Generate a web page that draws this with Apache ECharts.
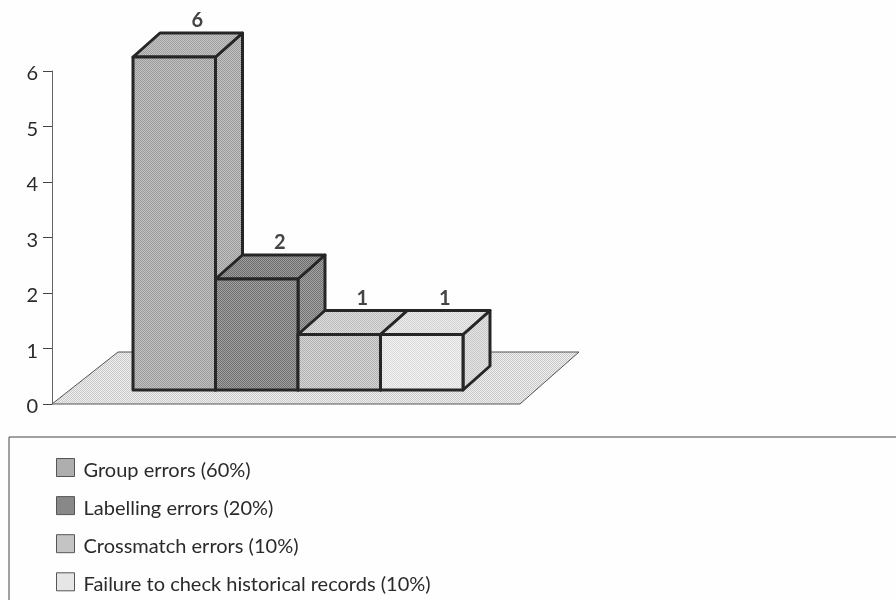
<!DOCTYPE html>
<html>
<head>
<meta charset="utf-8">
<style>html,body{margin:0;padding:0;background:#fff}#chart{width:896px;height:600px}</style>
<script src="https://cdn.jsdelivr.net/npm/echarts@6/dist/echarts.min.js"></script>
</head>
<body>
<div id="chart"></div>
<script>
// Error categories and their counts
const categories = ['Group errors (60%)', 'Labelling errors (20%)', 'Crossmatch errors (10%)', 'Failure to check historical records (10%)'];
const counts = [6, 2, 1, 1];
const yTicks = [0, 1, 2, 3, 4, 5, 6];

// Screen-tone shades per bar: [front, top, side], each a light/dark pair
const shades = [
  [['#c2c2c2', '#9a9a9a'], ['#c4c4c4', '#a0a0a0'], ['#c2c2c2', '#9a9a9a']],
  [['#a2a2a2', '#6e6e6e'], ['#9e9e9e', '#6c6c6c'], ['#a4a4a4', '#727272']],
  [['#d8d8d8', '#b0b0b0'], ['#dcdcdc', '#bcbcbc'], ['#d8d8d8', '#b4b4b4']],
  [['#f2f2f2', '#dadada'], ['#ececec', '#d2d2d2'], ['#e4e4e4', '#c8c8c8']]
];
const floorShade = ['#f0f0f0', '#c8c8c8'];

// 2x2 checker tile imitating a printed halftone
function tone(pair) {
  const c = document.createElement('canvas');
  c.width = c.height = 2;
  const g = c.getContext('2d');
  g.fillStyle = pair[0];
  g.fillRect(0, 0, 2, 2);
  g.fillStyle = pair[1];
  g.fillRect(0, 0, 1, 1);
  g.fillRect(1, 1, 1, 1);
  return { image: c, repeat: 'repeat' };
}

const INK = '#262626';
const DEPTH = [27, -24];   // oblique offset of the back face
const LIFT = 14;           // bars stand this far above the zero line, on the floor
const BAR_SPAN = 1;        // bar width in x-axis units
const X_MIN = -0.982;
const X_MAX = 4.691;

function barRenderer(idx) {
  const fills = shades[idx].map(tone);
  return function (params, api) {
    const x = api.value(0);
    const v = api.value(1);
    const bl = api.coord([x, 0]);
    const tr = api.coord([x + BAR_SPAN, v]);
    const l = bl[0], r = tr[0], b = bl[1] - LIFT, t = tr[1] - LIFT;
    const dx = DEPTH[0], dy = DEPTH[1];
    const line = { stroke: INK, lineWidth: 3, lineJoin: 'round' };
    const face = (pts, fill) => ({
      type: 'polygon',
      shape: { points: pts },
      style: Object.assign({ fill: fill }, line)
    });
    return {
      type: 'group',
      children: [
        face([[r, t], [r + dx, t + dy], [r + dx, b + dy], [r, b]], fills[2]),
        face([[l, t], [l + dx, t + dy], [r + dx, t + dy], [r, t]], fills[1]),
        face([[l, t], [r, t], [r, b], [l, b]], fills[0]),
        {
          type: 'text',
          style: {
            x: (l + r) / 2 + 23,
            y: t - 36,
            text: String(v),
            fill: '#444',
            font: 'bold 20px Lato',
            align: 'center',
            verticalAlign: 'middle'
          }
        }
      ]
    };
  };
}

const barSeries = categories.map((name, i) => ({
  name: name,
  type: 'custom',
  coordinateSystem: 'cartesian2d',
  itemStyle: { color: tone(shades[i][0]) },
  renderItem: barRenderer(i),
  data: [[i, counts[i]]],
  encode: { x: 0, y: 1 },
  z: 3 + i
}));

const floorFill = tone(floorShade);
const floorSeries = {
  name: 'floor',
  type: 'custom',
  coordinateSystem: 'cartesian2d',
  silent: true,
  z: 2,
  data: [[X_MIN, 0]],
  renderItem: function (params, api) {
    const a = api.coord([X_MIN, 0]);
    const b = api.coord([X_MAX, 0]);
    return {
      type: 'polygon',
      shape: { points: [[a[0], a[1]], [b[0], b[1]], [b[0] + 59, b[1] - 52], [a[0] + 66, a[1] - 52]] },
      style: { fill: floorFill, stroke: '#555', lineWidth: 1 }
    };
  }
};

// Rich-text style that nudges the glyphs below the tick or swatch centre
const lowered = { fontFamily: 'Lato', fontSize: 20, color: '#2a2a2a', padding: [6, 0, 0, 0] };

const chart = echarts.init(document.getElementById('chart'), null, { renderer: 'canvas' });
chart.setOption({
  animation: false,
  backgroundColor: '#fefefe',
  textStyle: { fontFamily: 'Lato' },
  grid: { left: 52, top: 71, width: 468, height: 333, containLabel: false },
  xAxis: { type: 'value', min: X_MIN, max: X_MAX, show: false },
  yAxis: {
    type: 'value',
    min: yTicks[0],
    max: yTicks[yTicks.length - 1],
    interval: 1,
    splitLine: { show: false },
    axisLine: { show: true, onZero: false, lineStyle: { color: '#666', width: 1 } },
    axisTick: { show: true, length: 9, lineStyle: { color: '#444', width: 1 } },
    axisLabel: { margin: 14, formatter: '{t|{value}}', rich: { t: lowered } }
  },
  legend: {
    data: categories,
    orient: 'vertical',
    left: 56,
    top: 458,
    padding: 0,
    itemWidth: 18,
    itemHeight: 18,
    itemGap: 15.6,
    icon: 'rect',
    selectedMode: false,
    itemStyle: { borderColor: '#555', borderWidth: 1 },
    formatter: '{t|{name}}',
    textStyle: { fontFamily: 'Lato', fontSize: 20, color: '#2a2a2a', padding: [0, 0, 0, 4], rich: { t: lowered } }
  },
  graphic: [{
    type: 'rect',
    silent: true,
    shape: { x: 9, y: 437, width: 1000, height: 300 },
    style: { fill: 'none', stroke: '#444', lineWidth: 1 }
  }],
  series: [floorSeries].concat(barSeries)
});
</script>
</body>
</html>
